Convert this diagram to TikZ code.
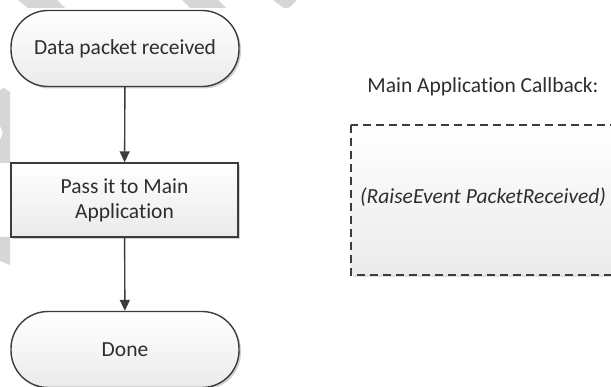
\documentclass[tikz,border=0pt]{standalone}
\usepackage{fontspec}
\setmainfont{Carlito}[Ligatures=NoCommon]
\usetikzlibrary{arrows.meta,shadows}
\definecolor{edge}{HTML}{3C3C3C}
\definecolor{txt}{HTML}{2E2E2E}
\definecolor{wm}{HTML}{D6D6D6}
\tikzset{
  base/.style={draw=edge, line width=1.4pt, top color=white, bottom color=black!8,
    drop shadow={shadow xshift=2pt, shadow yshift=-2pt, opacity=0.18, fill=black},
    text=txt, font=\fontsize{21.5}{25}\selectfont, align=center, inner sep=0pt},
  terminal/.style={base, rounded corners=37pt, minimum width=228pt, minimum height=76pt},
  process/.style={base, rectangle, minimum width=227pt, minimum height=74pt},
  flow/.style={draw=edge, line width=1.4pt, -{Triangle[width=10pt,length=11pt]}},
  label/.style={text=txt, font=\fontsize{21.5}{25}\selectfont, inner sep=0pt},
  cbbox/.style={draw=edge, line width=1.4pt, dash pattern=on 8pt off 5pt,
    top color=white, bottom color=black!8}
}
\begin{document}
\begin{tikzpicture}[x=1pt,y=-1pt]
\useasboundingbox (0,0) rectangle (611,387);
\begin{scope}
\clip (0,0) rectangle (611,387);
\fill[white] (0,0) rectangle (611,387);
% watermark fragments
\fill[wm] (18,0) -- (57,0) -- (65,8) -- (28,8) -- cycle;
\fill[wm] (182,0) -- (218,0) -- (226,8) -- (190,8) -- cycle;
\fill[wm] (273,0) -- (297,0) -- (291,6) .. controls (288,9) and (284,9) .. (281,6) -- cycle;
\fill[wm] (0,90) -- (4,88) -- (10,92) -- (10,163) -- (0,163) -- (0,140) -- (3,133) -- (0,126) -- cycle;
\fill[wm] (0,237) -- (10,237) -- (10,265) -- (0,261) -- cycle;
% callback box
\path[cbbox, drop shadow={shadow xshift=2pt, shadow yshift=-2pt, opacity=0.12, fill=black}] (351,125) rectangle (640,275);
\node[label, anchor=center] (title) at (483,87) {Main Application Callback:};
\node[label, anchor=west] (cb) at (360,197) {\itshape (RaiseEvent PacketReceived)};
% flow nodes
\node[terminal] (start) at (125,48.5) {Data packet received};
\node[process] (pass) at (124.5,200) {Pass it to Main\\Application};
\node[terminal] (done) at (125,349.5) {Done};
\draw[flow] (start) -- (pass);
\draw[flow] (pass) -- (done);
\end{scope}
\end{tikzpicture}
\end{document}
